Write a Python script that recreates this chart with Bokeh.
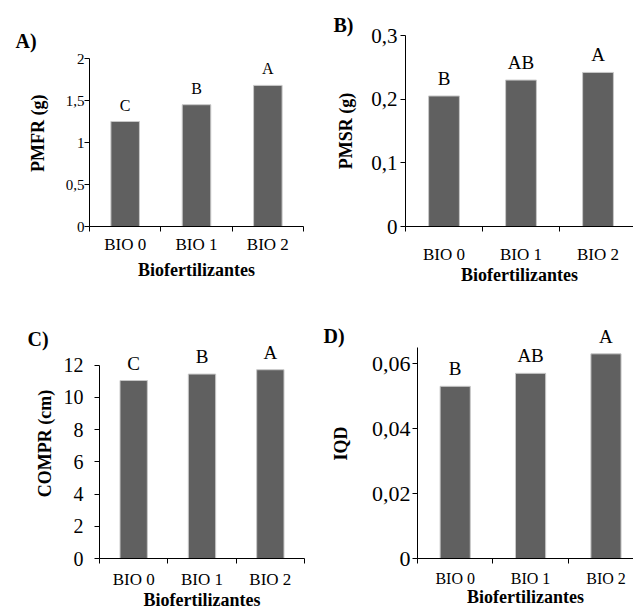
from bokeh.plotting import figure
from bokeh.models import FixedTicker, LabelSet, ColumnDataSource, Range1d
from bokeh.layouts import column, row
from bokeh.embed import file_html
from bokeh.resources import INLINE

# ---------------- data ----------------
categories = ["BIO 0", "BIO 1", "BIO 2"]
x_title = "Biofertilizantes"

pmfr = [1.25, 1.45, 1.68]
pmfr_letters = ["C", "B", "A"]
pmfr_ticks = [0, 0.5, 1, 1.5, 2]
pmfr_tick_labels = ["0", "0,5", "1", "1,5", "2"]

pmsr = [0.205, 0.230, 0.242]
pmsr_letters = ["B", "AB", "A"]
pmsr_ticks = [0, 0.1, 0.2, 0.3]
pmsr_tick_labels = ["0", "0,1", "0,2", "0,3"]

compr = [11.05, 11.45, 11.72]
compr_letters = ["C", "B", "A"]
compr_ticks = [0, 2, 4, 6, 8, 10, 12]
compr_tick_labels = ["0", "2", "4", "6", "8", "10", "12"]

iqd = [0.053, 0.057, 0.063]
iqd_letters = ["B", "AB", "A"]
iqd_ticks = [0, 0.02, 0.04, 0.06]
iqd_tick_labels = ["0", "0,02", "0,04", "0,06"]

FONT = "Liberation Serif"
BAR = "#606060"


def make_panel(values, letters, ticks, tick_labels, ylabel, tag, cfg):
    xs = [i + 0.5 for i in range(len(categories))]
    bounds = [i for i in range(len(categories) + 1)]
    src = ColumnDataSource(dict(x=xs, top=values, lab=letters))
    p = figure(width=cfg["w"], height=cfg["h"], output_backend="svg",
               toolbar_location=None,
               x_range=Range1d(0, cfg["xend"]), y_range=Range1d(0, cfg["yend"]),
               min_border_left=cfg["bl"], min_border_right=cfg["br"],
               min_border_top=cfg["bt"], min_border_bottom=cfg["bb"])
    p.outline_line_color = None
    p.xgrid.visible = False
    p.ygrid.visible = False
    p.background_fill_color = "white"
    p.border_fill_color = "white"

    # panel tag as title
    p.title.text = tag
    p.title.align = "left"
    p.title.offset = cfg["tx"]
    p.title.standoff = cfg["tst"]
    p.title.text_font = FONT
    p.title.text_font_style = "bold"
    p.title.text_font_size = "20px"
    p.title.text_color = "black"

    p.vbar(x="x", top="top", width=0.4, bottom=0, source=src,
           fill_color=BAR, line_color="#c8c8c8", line_width=1)

    ls = LabelSet(x="x", y="top", text="lab", source=src, y_offset=11,
                  text_align="center", text_baseline="alphabetic",
                  text_font=FONT, text_font_size=cfg["let_fs"], text_color="black")
    p.add_layout(ls)

    # x axis
    xa = p.xaxis[0]
    xa.ticker = FixedTicker(ticks=xs, minor_ticks=bounds)
    xa.major_label_overrides = dict(zip(xs, categories))
    xa.major_tick_out = 0
    xa.major_tick_in = 0
    xa.minor_tick_out = 5
    xa.minor_tick_in = 0
    xa.minor_tick_line_color = "black"
    xa.axis_line_color = "black"
    xa.major_label_text_font = FONT
    xa.major_label_text_font_size = cfg["xt_fs"]
    xa.major_label_text_color = "black"
    xa.major_label_standoff = cfg["xstd"]
    xa.axis_label = x_title
    xa.axis_label_text_font = FONT
    xa.axis_label_text_font_style = "bold"
    xa.axis_label_text_font_size = "18px"
    xa.axis_label_text_color = "black"
    xa.axis_label_standoff = cfg["xlstd"]

    # y axis
    ya = p.yaxis[0]
    ya.ticker = FixedTicker(ticks=ticks)
    ya.bounds = (0, cfg["ymax"])
    ya.major_label_overrides = dict(zip(ticks, tick_labels))
    ya.major_tick_out = 5
    ya.major_tick_in = 0
    ya.minor_tick_line_color = None
    ya.axis_line_color = "black"
    ya.major_label_text_font = FONT
    ya.major_label_text_font_size = cfg["yt_fs"]
    ya.major_label_text_color = "black"
    ya.major_label_standoff = cfg["ystd"]
    ya.axis_label = ylabel
    ya.axis_label_text_font = FONT
    ya.axis_label_text_font_style = "bold"
    ya.axis_label_text_font_size = "18px"
    ya.axis_label_text_color = "black"
    ya.axis_label_standoff = cfg["ylstd"]
    return p


# top row shares frame top 35 / bottom 226 ; bottom row frame top 328 / bottom 560
cfgA = dict(w=320, h=300, xend=3, yend=2.274, ymax=2, bl=89, br=17, bt=35, bb=74,
            let_fs="16px", xt_fs="17px", yt_fs="15px", xstd=3, xlstd=3,
            ystd=0, ylstd=15, tx=-74, tst=-33)
cfgB = dict(w=313, h=300, xend=2.961, yend=0.3, ymax=0.3, bl=85, br=0, bt=35, bb=74,
            let_fs="19px", xt_fs="17px", yt_fs="21px", xstd=13, xlstd=-2,
            ystd=3, ylstd=12, tx=-72, tst=0)
cfgC = dict(w=320, h=312, xend=3, yend=14.28, ymax=12, bl=99, br=16, bt=28, bb=52,
            let_fs="19px", xt_fs="17px", yt_fs="20px", xstd=6, xlstd=-2,
            ystd=11, ylstd=6, tx=-72, tst=-43)
cfgD = dict(w=313, h=312, xend=2.865, yend=0.0708, ymax=0.065, bl=97, br=0, bt=28, bb=52,
            let_fs="19px", xt_fs="16px", yt_fs="22px", xstd=6, xlstd=-3,
            ystd=2, ylstd=18, tx=-94, tst=-37)

pA = make_panel(pmfr, pmfr_letters, pmfr_ticks, pmfr_tick_labels, "PMFR  (g)", "A)", cfgA)
pB = make_panel(pmsr, pmsr_letters, pmsr_ticks, pmsr_tick_labels, "PMSR (g)", "B)", cfgB)
pC = make_panel(compr, compr_letters, compr_ticks, compr_tick_labels, "COMPR (cm)", "C)", cfgC)
pD = make_panel(iqd, iqd_letters, iqd_ticks, iqd_tick_labels, "IQD", "D)", cfgD)

layout = column(row(pA, pB), row(pC, pD))

open("out.html", "w").write(file_html(layout, INLINE))
